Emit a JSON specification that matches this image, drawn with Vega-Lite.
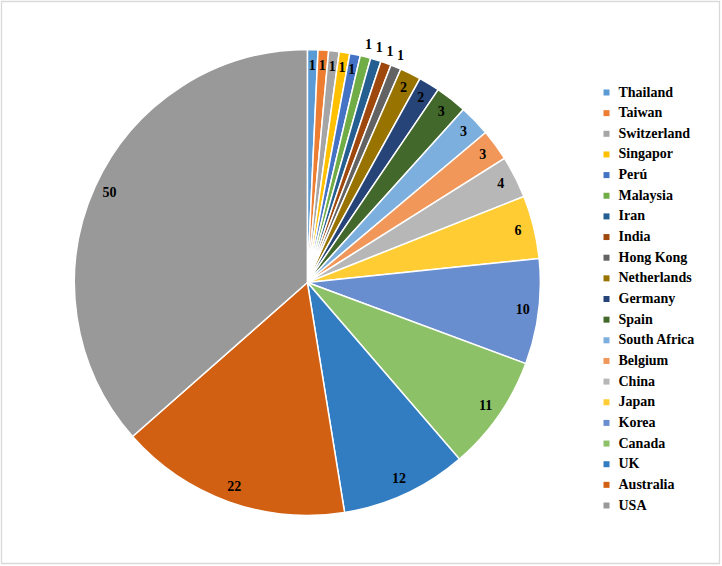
{
  "$schema": "https://vega.github.io/schema/vega-lite/v6.json",
  "width": 718,
  "height": 562,
  "autosize": {"type": "none"},
  "padding": {"left": 1.5, "top": 1.5, "right": 2.5, "bottom": 2.5},
  "background": "white",
  "config": {
    "view": {"stroke": null},
    "font": "Liberation Serif"
  },
  "data": {
    "values": [
      {"country": "Thailand", "n": 1, "idx": 1},
      {"country": "Taiwan", "n": 1, "idx": 2},
      {"country": "Switzerland", "n": 1, "idx": 3},
      {"country": "Singapor", "n": 1, "idx": 4},
      {"country": "Perú", "n": 1, "idx": 5},
      {"country": "Malaysia", "n": 1, "idx": 6},
      {"country": "Iran", "n": 1, "idx": 7},
      {"country": "India", "n": 1, "idx": 8},
      {"country": "Hong Kong", "n": 1, "idx": 9},
      {"country": "Netherlands", "n": 2, "idx": 10},
      {"country": "Germany", "n": 2, "idx": 11},
      {"country": "Spain", "n": 3, "idx": 12},
      {"country": "South Africa", "n": 3, "idx": 13},
      {"country": "Belgium", "n": 3, "idx": 14},
      {"country": "China", "n": 4, "idx": 15},
      {"country": "Japan", "n": 6, "idx": 16},
      {"country": "Korea", "n": 10, "idx": 17},
      {"country": "Canada", "n": 11, "idx": 18},
      {"country": "UK", "n": 12, "idx": 19},
      {"country": "Australia", "n": 22, "idx": 20},
      {"country": "USA", "n": 50, "idx": 21}
    ]
  },
  "transform": [
    {"stack": "n", "sort": [{"field": "idx", "order": "ascending"}], "as": ["n0", "n1"]},
    {"calculate": "(datum.n0 + datum.n1) / 2", "as": "mid"},
    {"calculate": "indexof(['Malaysia','Iran','India','Hong Kong'], datum.country) >= 0 ? 'out' : 'in'", "as": "pos"}
  ],
  "layer": [
    {
      "data": {"values": [{"frame": 1}]},
      "transform": [],
      "mark": {"type": "rect", "x": 0, "y": 0, "x2": {"expr": "width"}, "y2": {"expr": "height"}, "fill": null, "stroke": "#D9D9D9", "strokeWidth": 1.3},
      "encoding": {}
    },
    {
      "mark": {"type": "arc", "outerRadius": 233, "stroke": "white", "strokeWidth": 1.5, "x": {"expr": "width * 0.426"}},
      "encoding": {
        "theta": {"field": "n0", "type": "quantitative", "scale": {"domain": [0, 137]}},
        "theta2": {"field": "n1"},
        "color": {
          "field": "country",
          "type": "nominal",
          "sort": ["Thailand","Taiwan","Switzerland","Singapor","Perú","Malaysia","Iran","India","Hong Kong","Netherlands","Germany","Spain","South Africa","Belgium","China","Japan","Korea","Canada","UK","Australia","USA"],
          "scale": {
            "domain": ["Thailand","Taiwan","Switzerland","Singapor","Perú","Malaysia","Iran","India","Hong Kong","Netherlands","Germany","Spain","South Africa","Belgium","China","Japan","Korea","Canada","UK","Australia","USA"],
            "range": ["#5B9BD5","#ED7D31","#A5A5A5","#FFC000","#4472C4","#70AD47","#255E91","#9E480E","#636363","#997300","#264478","#43682B","#7CAFDD","#F1975A","#B7B7B7","#FFCD33","#698ED0","#8CC168","#327DC2","#D26012","#999999"]
          },
          "legend": {
            "title": null,
            "orient": "none",
            "legendX": 598,
            "legendY": 84,
            "symbolType": "square",
            "symbolSize": 36,
            "symbolStrokeWidth": 0,
            "labelFont": "Liberation Serif",
            "labelFontWeight": "bold",
            "labelFontSize": 14,
            "labelColor": "#000000",
            "labelOffset": 5,
            "rowPadding": 6.65,
            "labelLimit": 200
          }
        }
      }
    },
    {
      "transform": [{"filter": "datum.pos == 'in'"}],
      "mark": {"type": "text", "font": "Liberation Serif", "fontWeight": "bold", "fontSize": 14, "radius": 217, "x": {"expr": "width * 0.426"}, "color": "#000000"},
      "encoding": {
        "theta": {"field": "mid", "type": "quantitative"},
        "text": {"field": "n", "type": "quantitative"}
      }
    },
    {
      "transform": [{"filter": "datum.pos == 'out'"}],
      "mark": {"type": "text", "font": "Liberation Serif", "fontWeight": "bold", "fontSize": 14, "radius": 245, "x": {"expr": "width * 0.426"}, "color": "#000000"},
      "encoding": {
        "theta": {"field": "mid", "type": "quantitative"},
        "text": {"field": "n", "type": "quantitative"}
      }
    }
  ]
}
